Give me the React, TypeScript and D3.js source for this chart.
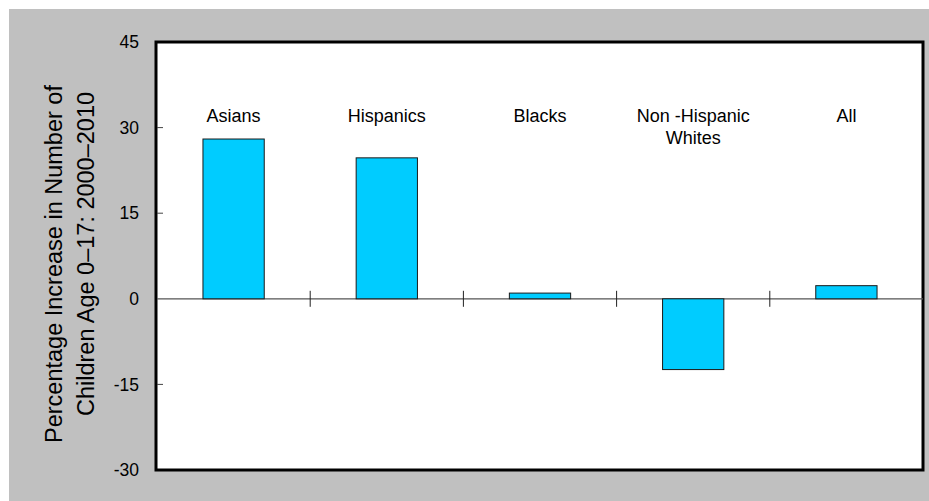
import React from "react";
import * as d3 from "d3";

const categories = ["Asians", "Hispanics", "Blacks", "Non -Hispanic Whites", "All"];
const categoryLabelLines = [["Asians"], ["Hispanics"], ["Blacks"], ["Non -Hispanic", "Whites"], ["All"]];
const values = [28.0, 24.7, 1.0, -12.4, 2.3];
const yTicks = [45, 30, 15, 0, -15, -30];
const yTitleLines = ["Percentage Increase in Number of", "Children Age 0\u201317: 2000\u20132010"];

const W = 929;
const H = 501;
const plot = { left: 157, right: 923, top: 42, bottom: 470 };
const font = "'Liberation Sans', Arial, Helvetica, sans-serif";

export default function App() {
  const x = d3.scaleBand<string>().domain(categories).range([plot.left, plot.right]).padding(0);
  const y = d3.scaleLinear().domain([-30, 45]).range([plot.bottom, plot.top]);
  const bw = x.bandwidth() * 0.4;
  const y0 = y(0);

  return (
    <svg
      width={W}
      height={H}
      style={{ position: "absolute", left: 0, top: 0, background: "#fff" }}
      fontFamily={font}
    >
      <rect x={9} y={9} width={W - 9} height={H - 9} fill="#c0c0c0" />
      <rect
        x={plot.left - 1}
        y={plot.top}
        width={plot.right - plot.left + 1}
        height={plot.bottom - plot.top}
        fill="#fff"
        stroke="#000"
        strokeWidth={3}
      />
      {/* y ticks */}
      {yTicks.map((t) => (
        <g key={t}>
          {t !== 45 && t !== -30 && t !== 0 && (
            <line x1={plot.left} x2={plot.left + 6} y1={y(t)} y2={y(t)} stroke="#444" strokeWidth={1} />
          )}
          <text x={139} y={y(t)} dy="0.35em" textAnchor="end" fontSize={17.5} fill="#000">
            {t}
          </text>
        </g>
      ))}
      {/* zero line */}
      <line x1={plot.left} x2={plot.right} y1={y0} y2={y0} stroke="#555" strokeWidth={1.2} />
      {/* category ticks */}
      {categories.slice(1).map((c) => (
        <line key={c} x1={x(c)!} x2={x(c)!} y1={y0 - 8} y2={y0 + 8} stroke="#222" strokeWidth={1} />
      ))}
      {/* bars */}
      {categories.map((c, i) => {
        const v = values[i];
        const cx = x(c)! + x.bandwidth() / 2;
        const top = y(Math.max(0, v));
        const bot = y(Math.min(0, v));
        return (
          <rect
            key={c}
            x={cx - bw / 2}
            y={top}
            width={bw}
            height={bot - top}
            fill="#00ccff"
            stroke="#1a1a1a"
            strokeWidth={1}
          />
        );
      })}
      {/* category labels */}
      {categories.map((c, i) => {
        const cx = x(c)! + x.bandwidth() / 2;
        return (
          <text key={c} x={cx} y={122} textAnchor="middle" fontSize={18} fill="#000">
            {categoryLabelLines[i].map((l, j) => (
              <tspan key={j} x={cx} dy={j === 0 ? 0 : 22}>
                {l}
              </tspan>
            ))}
          </text>
        );
      })}
      {/* y title */}
      <text transform={`translate(62,264) rotate(-90)`} textAnchor="middle" fontSize={23.5} fill="#000">
        {yTitleLines[0]}
      </text>
      <text transform={`translate(94,254) rotate(-90)`} textAnchor="middle" fontSize={23.5} fill="#000">
        {yTitleLines[1]}
      </text>
    </svg>
  );
}
